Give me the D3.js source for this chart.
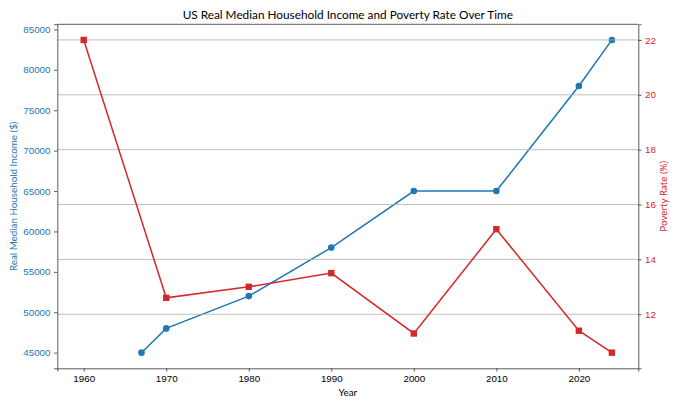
<!DOCTYPE html>
<html>
<head>
<meta charset="utf-8">
<script src="https://cdn.jsdelivr.net/npm/d3@7"></script>
<style>
  body { margin: 0; background: #fff; }
  svg { font-family: "Lato", "DejaVu Sans", sans-serif; }
</style>
</head>
<body>
<div id="chart"></div>
<script>
// data
const incomeYears = [1967, 1970, 1980, 1990, 2000, 2010, 2020, 2024];
const incomeValues = [45000, 48000, 52000, 58000, 65000, 65000, 78000, 83700];
const povertyYears = [1960, 1970, 1980, 1990, 2000, 2010, 2020, 2024];
const povertyValues = [22.0, 12.6, 13.0, 13.5, 11.3, 15.1, 11.4, 10.6];
const xTicks = [1960, 1970, 1980, 1990, 2000, 2010, 2020];
const incomeTicks = [45000, 50000, 55000, 60000, 65000, 70000, 75000, 80000, 85000];
const povertyTicks = [12, 14, 16, 18, 20, 22];

const colors = {
  income: "#1f77b4",
  poverty: "#d62728",
  grid: "#b0b0b0",
  text: "#000"
};

const W = 680, H = 408;
const margin = { top: 24.3, right: 680 - 638.3, bottom: 408 - 368.3, left: 57.3 };
const width = W - margin.left - margin.right;
const height = H - margin.top - margin.bottom;

const svg = d3.select("#chart").append("svg")
  .attr("width", W)
  .attr("height", H);

const g = svg.append("g")
  .attr("transform", `translate(${margin.left},${margin.top})`);

// scales with matplotlib-like 5% padding
function padded(ext) {
  const p = (ext[1] - ext[0]) * 0.05;
  return [ext[0] - p, ext[1] + p];
}
const allYears = incomeYears.concat(povertyYears);
const x = d3.scaleLinear().domain(padded(d3.extent(allYears))).range([0, width]);
const yL = d3.scaleLinear().domain(padded(d3.extent(incomeValues))).range([height, 0]);
const yR = d3.scaleLinear().domain(padded(d3.extent(povertyValues))).range([height, 0]);

const income = incomeYears.map((yr, i) => ({ x: yr, y: incomeValues[i] }));
const poverty = povertyYears.map((yr, i) => ({ x: yr, y: povertyValues[i] }));

// blue line (left axis)
g.append("path")
  .datum(income)
  .attr("fill", "none")
  .attr("stroke", colors.income)
  .attr("stroke-width", 1.5)
  .attr("d", d3.line().x(d => x(d.x)).y(d => yL(d.y)));

g.selectAll(".inc-dot")
  .data(income)
  .enter().append("circle")
  .attr("cx", d => x(d.x))
  .attr("cy", d => yL(d.y))
  .attr("r", 3.3)
  .attr("fill", colors.income);

// grid from right axis (drawn over the first axes, like twinx)
g.append("g")
  .selectAll("line")
  .data(povertyTicks)
  .enter().append("line")
  .attr("x1", 0)
  .attr("x2", width)
  .attr("y1", d => yR(d))
  .attr("y2", d => yR(d))
  .attr("stroke", colors.grid)
  .attr("stroke-width", 0.8);

// red line (right axis)
g.append("path")
  .datum(poverty)
  .attr("fill", "none")
  .attr("stroke", colors.poverty)
  .attr("stroke-width", 1.5)
  .attr("d", d3.line().x(d => x(d.x)).y(d => yR(d.y)));

g.selectAll(".pov-dot")
  .data(poverty)
  .enter().append("rect")
  .attr("x", d => x(d.x) - 3.2)
  .attr("y", d => yR(d.y) - 3.2)
  .attr("width", 6.4)
  .attr("height", 6.4)
  .attr("fill", colors.poverty);

// axes
const styleAxis = (sel, color) => {
  sel.selectAll(".domain").attr("stroke", "#333").attr("stroke-width", 0.8);
  sel.selectAll(".tick line").attr("stroke", "#333").attr("stroke-width", 0.8);
  sel.selectAll(".tick text").attr("fill", color).style("font-size", "9.8px");
};

g.append("g")
  .attr("transform", `translate(0,${height})`)
  .call(d3.axisBottom(x).tickValues(xTicks).tickFormat(d3.format("d")).tickSizeOuter(0).tickSize(3.3).tickPadding(3.5))
  .call(sel => styleAxis(sel, colors.text));

g.append("g")
  .call(d3.axisLeft(yL).tickValues(incomeTicks).tickFormat(d3.format("d")).tickSizeOuter(0).tickSize(3.3).tickPadding(3.5))
  .call(sel => styleAxis(sel, colors.income));

g.append("g")
  .attr("transform", `translate(${width},0)`)
  .call(d3.axisRight(yR).tickValues(povertyTicks).tickFormat(d3.format("d")).tickSizeOuter(0).tickSize(3.3).tickPadding(3.5))
  .call(sel => styleAxis(sel, colors.poverty));

// top spine
g.append("line")
  .attr("x1", 0).attr("x2", width)
  .attr("y1", 0).attr("y2", 0)
  .attr("stroke", "#333").attr("stroke-width", 0.8);

// title + labels
svg.append("text")
  .attr("x", margin.left + width / 2)
  .attr("y", 18.5)
  .attr("text-anchor", "middle")
  .style("font-size", "11.8px")
  .text("US Real Median Household Income and Poverty Rate Over Time");

svg.append("text")
  .attr("x", margin.left + width / 2)
  .attr("y", 396)
  .attr("text-anchor", "middle")
  .style("font-size", "9.8px")
  .text("Year");

svg.append("text")
  .attr("transform", `translate(17,${margin.top + height / 2}) rotate(-90)`)
  .attr("text-anchor", "middle")
  .attr("fill", colors.income)
  .style("font-size", "9.8px")
  .text("Real Median Household Income ($)");

svg.append("text")
  .attr("transform", `translate(667,${margin.top + height / 2}) rotate(-90)`)
  .attr("text-anchor", "middle")
  .attr("fill", colors.poverty)
  .style("font-size", "9.8px")
  .text("Poverty Rate (%)");
</script>
</body>
</html>
